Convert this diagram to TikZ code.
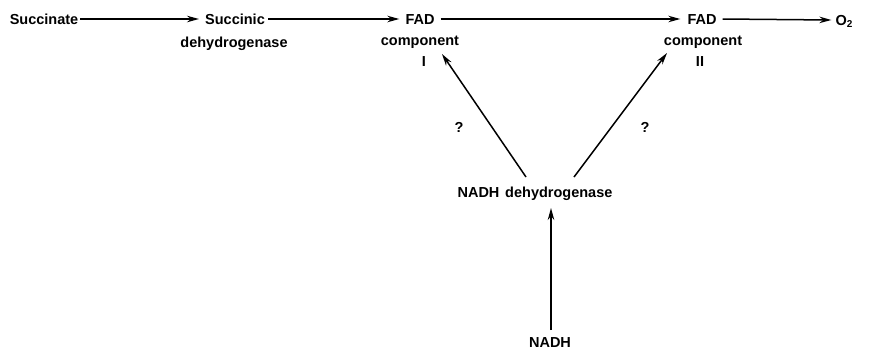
\documentclass[tikz,border=0pt]{standalone}
\usepackage{fontspec}
\setmainfont{Liberation Sans}
\usetikzlibrary{arrows.meta}
\begin{document}
\begin{tikzpicture}[x=1pt,y=-1pt,
  lbl/.style={font=\fontsize{14.5}{16}\selectfont\bfseries, inner sep=0pt, text height=10pt, text depth=0pt},
  flow/.style={line width=1.5pt, -{Stealth[length=12pt,width=6.5pt]}}]
\useasboundingbox (0,0) rectangle (873,357);
% main chain
\node[lbl] (succ) at (44,19) {Succinate};
\node[lbl] (sdh)  at (235,19) {Succinic};
\node[lbl] (sdhb) at (234,42) {dehydrogenase};
\node[lbl] (fad1) at (420,19) {FAD};
\node[lbl] (comp1) at (420,40) {component};
\node[lbl] (one)  at (424,61) {I};
\node[lbl] (fad2) at (702,19) {FAD};
\node[lbl] (comp2) at (703,40) {component};
\node[lbl] (two)  at (700,61) {II};
\node[lbl] (oxy)  at (844,20) {O\raisebox{-0.35ex}{\fontsize{10}{12}\selectfont 2}};
% NADH branch
\node[lbl] (ndh)  at (535,192) {NADH\hspace{0.4em}dehydrogenase};
\node[lbl] (nadh) at (550,342) {NADH};
\node[lbl] (q1) at (459,127) {?};
\node[lbl] (q2) at (645,127) {?};
\coordinate (t1) at (442,54);
\coordinate (t2) at (667,53);
\coordinate (s1) at (526,177);
\coordinate (s2) at (574,177);
\coordinate (s3) at (551,330);
\coordinate (t3) at (551,208);

\draw[flow] ([xshift=2pt]succ.east) -- ([xshift=-6pt]sdh.west);
\draw[flow] ([xshift=3pt]sdh.east) -- ([xshift=-6pt]fad1.west);
\draw[flow] ([xshift=6pt]fad1.east) -- ([xshift=-7pt]fad2.west);
\draw[flow] ([xshift=6pt]fad2.east) -- ([xshift=-4pt]oxy.west);
\draw[flow] (s1) -- (t1);
\draw[flow] (s2) -- (t2);
\draw[flow] (s3) -- (t3);
\end{tikzpicture}
\end{document}
